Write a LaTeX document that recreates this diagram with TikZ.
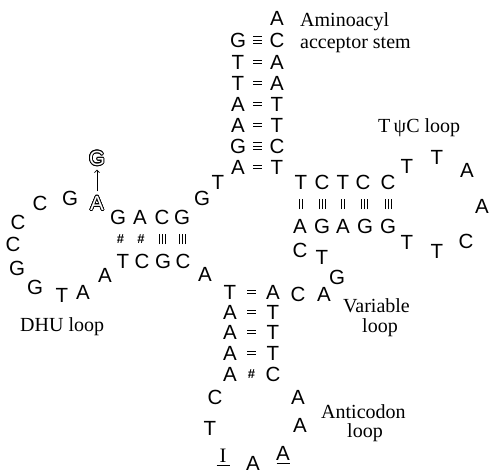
\documentclass[tikz,border=0pt]{standalone}
\usepackage{fontspec}
\setmainfont{Liberation Serif}
\setsansfont{Liberation Sans}
\usetikzlibrary{calc,arrows.meta}
\newcommand\bondh[4]{%
  \coordinate (bm) at ($(#3)!0.5!(#4)$);
  \pgfmathsetmacro\bofs{(#1+1)/2}
  \foreach \k in {1,...,#1} {\draw[bondline] ([xshift=-4.5pt,yshift={(\k-\bofs)*#2}]bm) -- ++(9pt,0pt);}
}
\newcommand\bondv[4]{%
  \coordinate (bm) at ($(#3)!0.5!(#4)$);
  \pgfmathsetmacro\bofs{(#1+1)/2}
  \foreach \k in {1,...,#1} {\draw[bondline] ([xshift={(\k-\bofs)*#2},yshift=-5pt]bm) -- ++(0pt,10pt);}
}
\newcommand\outl[3]{%
  \foreach \ang in {0,22.5,...,337.5} {\node[base] at ($(#2)+(\ang:0.8pt)$) {#3};}
  \node[base,text=white] (#1) at (#2) {#3};
}
\begin{document}
\begin{tikzpicture}[x=1pt,y=-1pt,
  base/.style={font=\sffamily\fontsize{20.5}{20.5}\selectfont, inner sep=0pt, text height=14.7pt, text depth=0pt},
  lbl/.style={font=\fontsize{20}{20}\selectfont, inner sep=0pt, anchor=base west},
  bondline/.style={line width=0.85pt},
  hashmark/.style={font=\sffamily\bfseries\fontsize{13}{13}\selectfont, inner sep=0pt}]
\useasboundingbox (0,0) rectangle (489,474);
% acceptor stem
\node[base] (acA) at (277,18) {A};
\foreach \n/\l/\r/\y in {1/G/C/40, 2/T/A/62, 3/T/A/83, 4/A/T/104, 5/A/T/125, 6/G/C/146, 7/A/T/167} {
  \node[base] (aL\n) at (238,\y) {\l};
  \node[base] (aR\n) at (277,\y) {\r};
}
\bondh{3}{3.2pt}{aL1}{aR1}
\bondh{2}{3.8pt}{aL2}{aR2}
\bondh{2}{3.8pt}{aL3}{aR3}
\bondh{2}{3.8pt}{aL4}{aR4}
\bondh{2}{3.8pt}{aL5}{aR5}
\bondh{3}{3.2pt}{aL6}{aR6}
\bondh{2}{3.8pt}{aL7}{aR7}
\node[lbl] (lamino) at (300,26.5) {Aminoacyl};
\node[lbl] (lacc) at (300,48) {acceptor stem};
% connector
\node[base] (c1) at (218,182) {T};
\node[base] (c2) at (202,198) {G};
% D stem
\foreach \n/\l/\x in {1/G/118, 2/A/140, 3/C/162, 4/G/182} {\node[base] (dT\n) at (\x,217) {\l};}
\foreach \n/\l/\x in {1/T/123, 2/C/142, 3/G/163, 4/C/183} {\node[base] (dB\n) at (\x,261) {\l};}
\node[hashmark] at ($(dT1)!0.5!(dB1)$) {\#};
\node[hashmark] at ($(dT2)!0.5!(dB2)$) {\#};
\bondv{3}{3pt}{dT3}{dB3}
\bondv{3}{3pt}{dT4}{dB4}
% D loop
\outl{oA}{97,203}{A}
\outl{oG}{97,158}{G}
\draw[line width=0.8pt,-{Straight Barb[length=2.5pt,width=5pt]},shorten <=4pt,shorten >=4pt] (oA.north) -- (oG.south);
\node[base] (d1) at (70,198) {G};
\node[base] (d2) at (40,203) {C};
\node[base] (d3) at (18,222) {C};
\node[base] (d4) at (13,244) {C};
\node[base] (d5) at (17,268) {G};
\node[base] (d6) at (35,287) {G};
\node[base] (d7) at (62,295) {T};
\node[base] (d8) at (83,292) {A};
\node[base] (d9) at (105,275) {A};
\node[lbl] (ldhu) at (20,331) {DHU loop};
\node[base] (dA) at (205,274) {A};
% anticodon stem
\foreach \n/\l/\r/\y in {1/T/A/292, 2/A/T/312, 3/A/T/332, 4/A/T/353, 5/A/C/374} {
  \node[base] (nL\n) at (230,\y) {\l};
  \node[base] (nR\n) at (273,\y) {\r};
}
\bondh{2}{3.8pt}{nL1}{nR1}
\bondh{2}{3.8pt}{nL2}{nR2}
\bondh{2}{3.8pt}{nL3}{nR3}
\bondh{2}{3.8pt}{nL4}{nR4}
\node[hashmark] at ($(nL5)!0.5!(nR5)$) {\#};
% anticodon loop
\node[base] (x1) at (215,397) {C};
\node[base] (x2) at (210,428) {T};
\node[base,font=\rmfamily\fontsize{20.5}{20.5}\selectfont] (x3) at (223,455) {I};
\draw[line width=1pt] ([xshift=-6.5pt,yshift=-3pt]x3.south) -- ([xshift=6.5pt,yshift=-3pt]x3.south);
\node[base] (x4) at (253,463) {A};
\node[base] (x5) at (283,453) {A};
\draw[line width=1pt] ([xshift=-6.5pt,yshift=-3pt]x5.south) -- ([xshift=6.5pt,yshift=-3pt]x5.south);
\node[base] (x6) at (300,425) {A};
\node[base] (x7) at (298,397) {A};
\node[lbl] (lanti) at (321,418) {Anticodon};
\node[lbl] (lanti2) at (347,437) {loop};
% variable loop
\node[base] (v1) at (298,294) {C};
\node[base] (v2) at (324,294) {A};
\node[base] (v3) at (337,277) {G};
\node[base] (v4) at (322,257) {T};
\node[base] (v5) at (300,250) {C};
\node[lbl] (lvar) at (343,312) {Variable};
\node[lbl] (lvar2) at (362,332) {loop};
% T stem
\foreach \n/\l/\x in {1/A/300, 2/G/322, 3/A/343, 4/G/365, 5/G/388} {\node[base] (tB\n) at (\x,226) {\l};}
\foreach \n/\l/\x in {1/T/301, 2/C/322, 3/T/343, 4/C/363, 5/C/388} {\node[base] (tT\n) at (\x,182) {\l};}
\bondv{2}{3pt}{tT1}{tB1}
\bondv{3}{3pt}{tT2}{tB2}
\bondv{2}{3pt}{tT3}{tB3}
\bondv{3}{3pt}{tT4}{tB4}
\bondv{3}{3pt}{tT5}{tB5}
% T loop
\node[base] (t1) at (407,166) {T};
\node[base] (t2) at (437,157) {T};
\node[base] (t3) at (467,170) {A};
\node[base] (t4) at (482,206) {A};
\node[base] (t5) at (466,241) {C};
\node[base] (t6) at (437,251) {T};
\node[base] (t7) at (407,242) {T};
\node[lbl] (ltpc) at (378,132) {T\,ψC loop};
\end{tikzpicture}
\end{document}
